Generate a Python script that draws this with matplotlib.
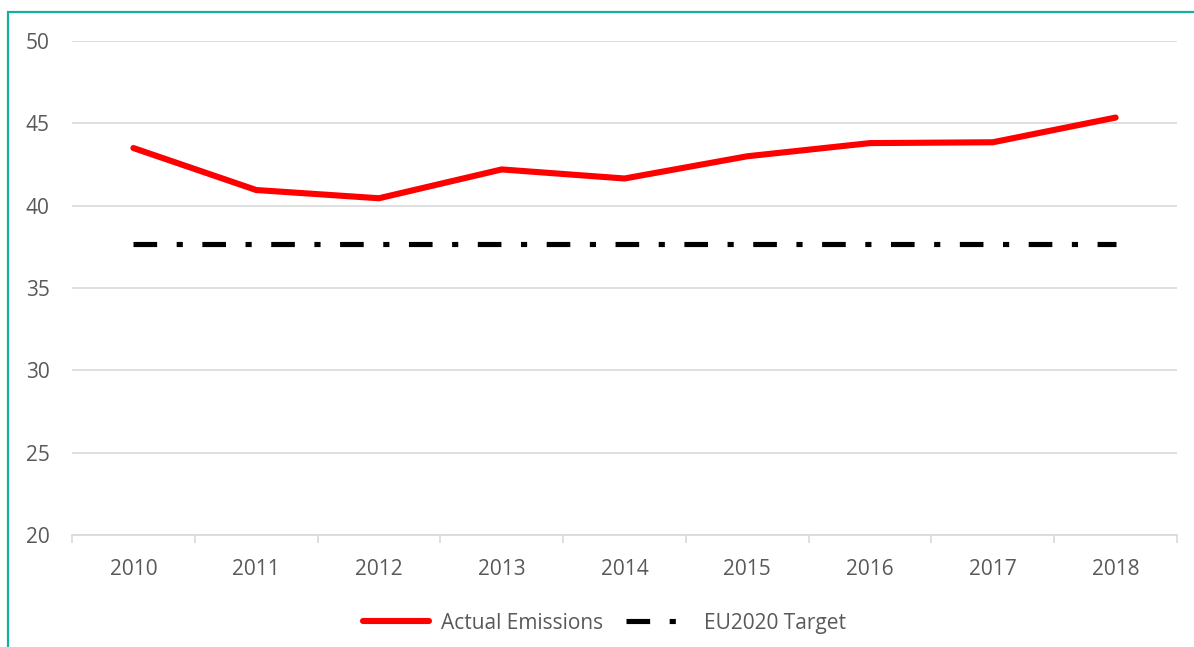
import matplotlib.pyplot as plt
from matplotlib.patches import Rectangle

years = ['2010', '2011', '2012', '2013', '2014', '2015', '2016', '2017', '2018']
actual = [43.5, 40.95, 40.45, 42.2, 41.65, 43.0, 43.8, 43.85, 45.35]
target = [37.65] * len(years)

plt.rcParams['font.family'] = ['Open Sans', 'DejaVu Sans']
grey_text = '#595959'
grey_line = '#D9D9D9'

fig = plt.figure(figsize=(11.94, 6.47), dpi=100)
ax = fig.add_axes([72 / 1194, 1 - 535 / 647, (1177 - 72) / 1194, (535 - 41) / 647])

x = list(range(len(years)))
ax.plot(x, actual, color='#FF0000', lw=4.4, solid_capstyle='round',
        solid_joinstyle='round', label='Actual Emissions', zorder=3)
ax.plot(x, target, color='black', lw=3.7, dash_capstyle='butt',
        dashes=(4.6, 3.8, 1.2, 3.8), label='EU2020 Target', zorder=3)

ax.set_xlim(-0.5, len(years) - 0.5)
ax.set_ylim(20, 50)
ax.set_yticks(range(20, 51, 5))
ax.set_xticks(x)
ax.set_xticklabels(years)
ax.set_xticks([i - 0.5 for i in range(len(years) + 1)], minor=True)

ax.grid(axis='y', color=grey_line, lw=1.2)
ax.set_axisbelow(True)
for s in ['top', 'right', 'left']:
    ax.spines[s].set_visible(False)
ax.spines['bottom'].set_color(grey_line)
ax.spines['bottom'].set_linewidth(1.2)

ax.tick_params(axis='y', length=0, pad=16, labelsize=15, labelcolor=grey_text)
ax.tick_params(axis='x', which='major', length=0, pad=17, labelsize=15, labelcolor=grey_text)
ax.tick_params(axis='x', which='minor', length=6, width=1.2, color=grey_line)

fig.legend(loc='center', bbox_to_anchor=(0.506, 0.037), ncol=2, frameon=False,
           fontsize=15, labelcolor=grey_text, handlelength=3.2, handletextpad=0.55,
           columnspacing=1.1)

# teal frame around the chart (right and bottom edges cut off)
fig.patches.append(Rectangle((8 / 1194, -0.1), 1.2, 1 - 12 / 647 + 0.1,
                             transform=fig.transFigure, fill=False,
                             edgecolor='#14AFA2', lw=1.6))

fig.savefig('out.png', dpi=100)
